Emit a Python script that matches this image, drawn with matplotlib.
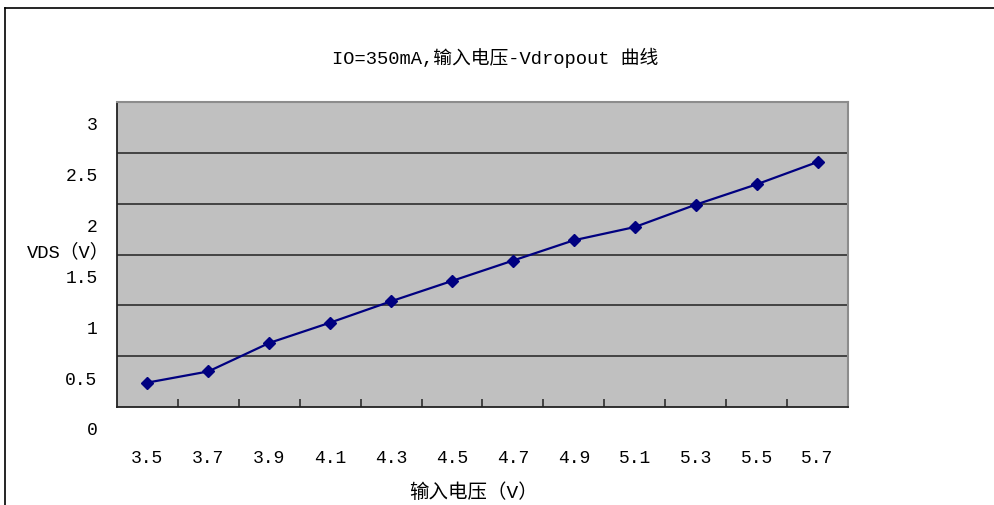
import matplotlib
matplotlib.use("Agg")
import matplotlib.pyplot as plt
import matplotlib.transforms as mtransforms
from matplotlib.lines import Line2D

plt.rcParams['font.family'] = ['Liberation Mono', 'Noto Sans CJK SC', 'DejaVu Sans']

vin = ['3.5', '3.7', '3.9', '4.1', '4.3', '4.5', '4.7', '4.9', '5.1', '5.3', '5.5', '5.7']
vds = [0.24, 0.35, 0.63, 0.83, 1.04, 1.24, 1.44, 1.64, 1.77, 1.99, 2.19, 2.41]
yticks = [0, 0.5, 1, 1.5, 2, 2.5, 3]
ytick_labels = ['0', '0.5', '1', '1.5', '2', '2.5', '3']

W, H = 995, 506
fig = plt.figure(figsize=(W / 100, H / 100), dpi=100)
fig.patch.set_facecolor('white')

# chart frame (only top and left edges fall inside the image)
fig.add_artist(Line2D([5 / W, 5 / W], [0, 1 - 9 / H], color='black', lw=1.2,
                      transform=fig.transFigure))
fig.add_artist(Line2D([5 / W, 1], [1 - 9 / H, 1 - 9 / H], color='black', lw=1.2,
                      transform=fig.transFigure))

ax = fig.add_axes([117 / W, 1 - 408 / H, 731 / W, 305 / H])
ax.set_facecolor('#C0C0C0')

x = list(range(len(vin)))
ax.plot(x, vds, color='#000080', lw=1.6, marker='D', ms=6.3,
        markerfacecolor='#000080', markeredgecolor='#000080')

ax.set_xlim(-0.5, len(vin) - 0.5)
ax.set_ylim(0, 3)

for v in yticks[1:-1]:
    ax.axhline(v, color='#222222', lw=1.1, zorder=1)

for side in ['top', 'right']:
    ax.spines[side].set_color('#8c8c8c')
    ax.spines[side].set_linewidth(1.5)
for side in ['left', 'bottom']:
    ax.spines[side].set_color('#222222')
    ax.spines[side].set_linewidth(1.3)

ax.set_xticks(x)
ax.set_xticklabels(vin, fontsize=13)
ax.set_xticks([i + 0.5 for i in x[:-1]] + [len(vin) - 0.5], minor=True)
ax.tick_params(axis='x', which='major', length=0, pad=30)
ax.tick_params(axis='x', which='minor', direction='in', length=6, width=1.1, color='#222222')

ax.set_yticks(yticks)
ax.set_yticklabels(ytick_labels, fontsize=13)
ax.tick_params(axis='y', length=0, pad=14)
offset = mtransforms.ScaledTranslation(0, -21 / 100, fig.dpi_scale_trans)
for lab in ax.get_yticklabels():
    lab.set_transform(lab.get_transform() + offset)

fig.text(495 / W, 1 - 58 / H, 'IO=350mA,输入电压-Vdropout 曲线', ha='center', va='center',
         fontsize=13.5)
fig.text(68 / W, 1 - 252 / H, 'VDS（V）', ha='center', va='center', fontsize=13.5)
fig.text(474 / W, 1 - 493 / H, '输入电压（V）', ha='center', va='center', fontsize=14)

fig.savefig('out.png', dpi=100)
